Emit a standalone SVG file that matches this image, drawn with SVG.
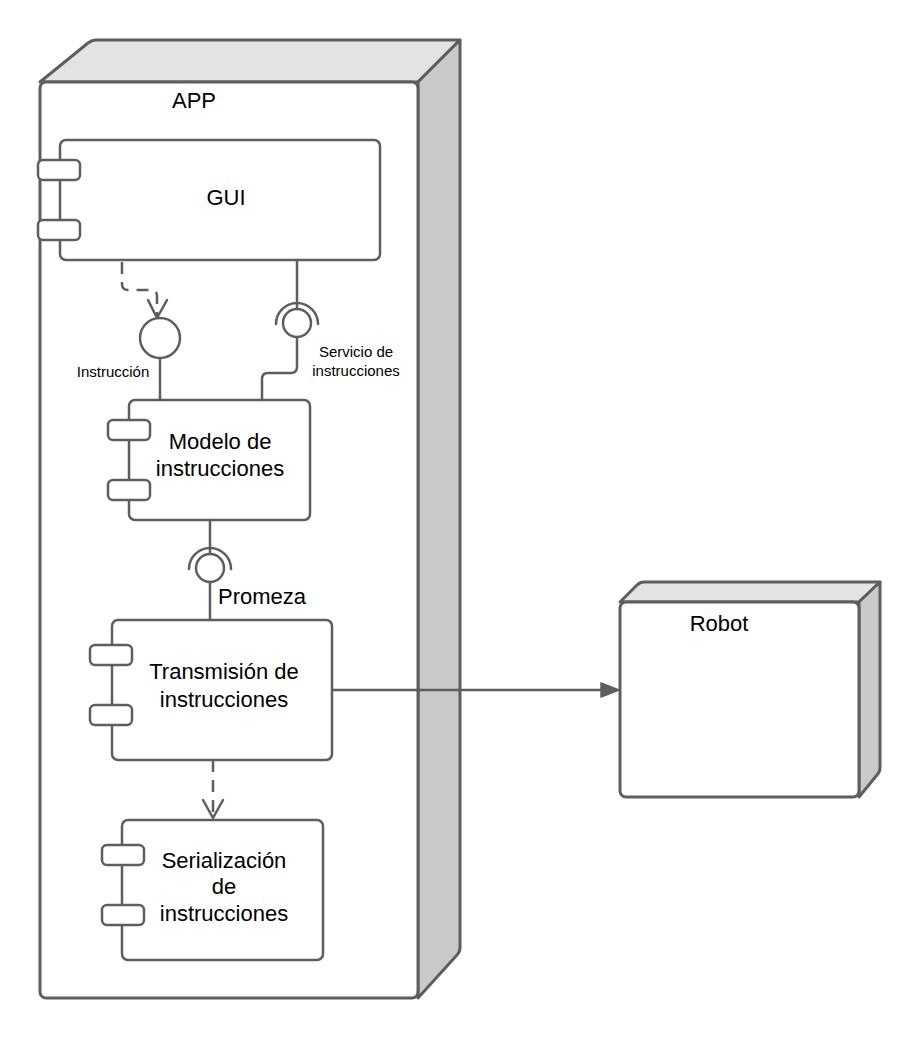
<svg xmlns="http://www.w3.org/2000/svg" width="920" height="1040" viewBox="0 0 920 1040">
  <defs>
    <style>
      .edge { fill: none; stroke: #5e5e5e; stroke-width: 2.5; stroke-linejoin: round; stroke-linecap: round; }
      .face { fill: #ffffff; stroke: #5e5e5e; stroke-width: 3; stroke-linejoin: round; }
      .top { fill: #e3e3e3; stroke: #5e5e5e; stroke-width: 3; stroke-linejoin: round; }
      .side { fill: #c9c9c9; stroke: #5e5e5e; stroke-width: 3; stroke-linejoin: round; }
      .box { fill: #ffffff; stroke: #5e5e5e; stroke-width: 2.5; }
      .port { fill: #ffffff; stroke: #5e5e5e; stroke-width: 2.5; }
      .dash { stroke-dasharray: 12 8; stroke-linecap: butt; }
      .lbl { font-family: "Liberation Sans", Arial, sans-serif; fill: #000000; }
      .big { font-size: 22px; }
      .small { font-size: 15px; }
    </style>
  </defs>

  <!-- APP execution node -->
  <g id="app">
    <path class="top" d="M40,82 L88,43 Q92,40 96,40 L460,40 L418,82 Z"/>
    <path class="side" d="M418,82 L460,40 L460,948 Q460,952 457,955 L418,998 Z"/>
    <rect class="face" x="40" y="82" width="378" height="916" rx="6"/>
    <text class="lbl big" x="194" y="108" text-anchor="middle">APP</text>
  </g>

  <!-- Robot execution node -->
  <g id="robot">
    <path class="top" d="M620,602 L637,585 Q640,582 644,582 L880,582 L859,602 Z"/>
    <path class="side" d="M859,602 L880,582 L880,768 Q880,772 877,775 L859,797 Z"/>
    <rect class="face" x="620" y="602" width="239" height="195" rx="6"/>
    <text class="lbl big" x="719" y="631" text-anchor="middle">Robot</text>
  </g>

  <!-- Components -->
  <g id="gui">
    <rect class="box" x="60" y="140" width="320" height="120" rx="6"/>
    <rect class="port" x="38" y="160" width="42" height="20" rx="5"/>
    <rect class="port" x="38" y="220" width="42" height="20" rx="5"/>
    <text class="lbl big" x="226" y="205" text-anchor="middle">GUI</text>
  </g>

  <g id="modelo">
    <rect class="box" x="129" y="400" width="181" height="120" rx="6"/>
    <rect class="port" x="108" y="420" width="42" height="20" rx="5"/>
    <rect class="port" x="108" y="480" width="42" height="20" rx="5"/>
    <text class="lbl big" x="220" y="449" text-anchor="middle">Modelo de</text>
    <text class="lbl big" x="220" y="476" text-anchor="middle">instrucciones</text>
  </g>

  <g id="transmision">
    <rect class="box" x="112" y="620" width="220" height="140" rx="6"/>
    <rect class="port" x="90" y="645" width="42" height="20" rx="5"/>
    <rect class="port" x="90" y="705" width="42" height="20" rx="5"/>
    <text class="lbl big" x="224" y="679" text-anchor="middle">Transmisión de</text>
    <text class="lbl big" x="224" y="707" text-anchor="middle">instrucciones</text>
  </g>

  <g id="serializacion">
    <rect class="box" x="122" y="820" width="201" height="140" rx="6"/>
    <rect class="port" x="102" y="845" width="42" height="20" rx="5"/>
    <rect class="port" x="102" y="905" width="42" height="20" rx="5"/>
    <text class="lbl big" x="224" y="868" text-anchor="middle">Serialización</text>
    <text class="lbl big" x="224" y="894" text-anchor="middle">de</text>
    <text class="lbl big" x="224" y="921" text-anchor="middle">instrucciones</text>
  </g>

  <!-- Interfaces -->
  <g id="instruccion">
    <circle class="port" cx="160" cy="338" r="20"/>
    <text class="lbl small" x="113" y="377" text-anchor="middle">Instrucción</text>
  </g>

  <g id="servicio">
    <circle class="port" cx="297" cy="323" r="14"/>
    <path class="edge" d="M276,324 A21,21 0 0 1 318,324"/>
    <text class="lbl small" x="356" y="357" text-anchor="middle">Servicio de</text>
    <text class="lbl small" x="356" y="376" text-anchor="middle">instrucciones</text>
  </g>

  <g id="promeza">
    <circle class="port" cx="210" cy="568" r="14"/>
    <path class="edge" d="M189,569 A21,21 0 0 1 231,569"/>
    <text class="lbl big" x="218" y="604">Promeza</text>
  </g>

  <!-- Connectors -->
  <g id="connectors">
    <!-- GUI uses Instrucción -->
    <path class="edge dash" d="M122,262 L122,284 Q122,290 128,290 L151,290 Q157,290 157,296 L157,316"/>
    <path class="edge" d="M148,300 L157,318 L167,300"/>
    <line class="edge" x1="160" y1="358" x2="160" y2="400"/>

    <!-- GUI requires Servicio de instrucciones -->
    <line class="edge" x1="297" y1="260" x2="297" y2="309"/>
    <path class="edge" d="M297,337 L297,367 Q297,373 291,373 L268,373 Q262,373 262,379 L262,400"/>

    <!-- Modelo requires Promeza, provided by Transmisión -->
    <line class="edge" x1="210" y1="520" x2="210" y2="554"/>
    <line class="edge" x1="210" y1="582" x2="210" y2="620"/>

    <!-- Transmisión depends on Serialización -->
    <path class="edge dash" d="M213,760 L213,816"/>
    <path class="edge" d="M203,800 L213,818 L223,800"/>

    <!-- Transmisión sends to Robot -->
    <line class="edge" x1="333" y1="690" x2="602" y2="690"/>
    <path d="M601,683 L619,690 L601,697 Z" fill="#5e5e5e" stroke="#5e5e5e" stroke-width="1.5" stroke-linejoin="round"/>
  </g>
</svg>
